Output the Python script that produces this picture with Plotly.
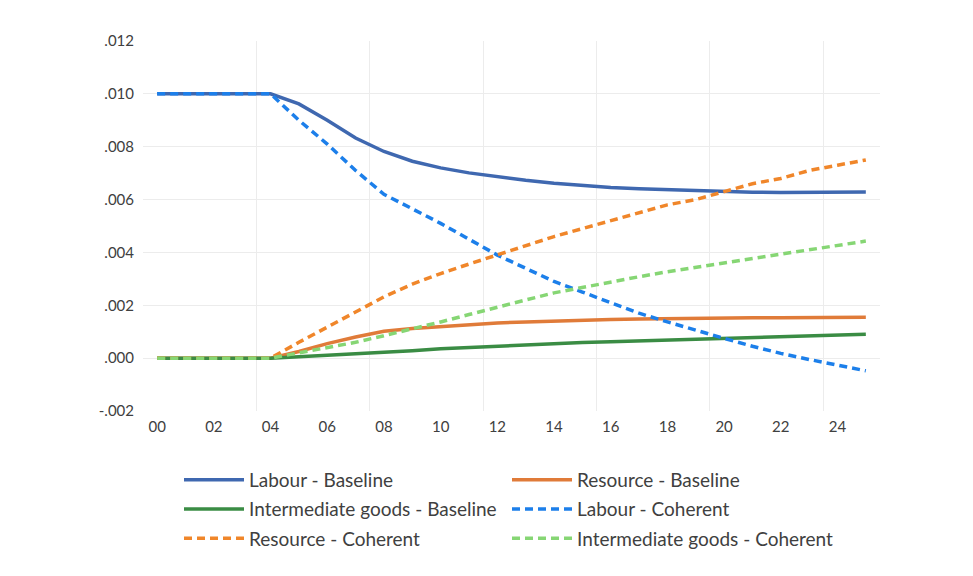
import plotly.graph_objects as go

years = list(range(0, 26))
x_tick_vals = [0, 2, 4, 6, 8, 10, 12, 14, 16, 18, 20, 22, 24]
x_tick_text = ["00", "02", "04", "06", "08", "10", "12", "14", "16", "18", "20", "22", "24"]
y_tick_vals = [-0.002, 0.0, 0.002, 0.004, 0.006, 0.008, 0.010, 0.012]
y_tick_text = ["-.002", ".000", ".002", ".004", ".006", ".008", ".010", ".012"]

labour_baseline = [0.0100, 0.0100, 0.0100, 0.0100, 0.0100, 0.00962, 0.00900, 0.00833, 0.00782,
                   0.00745, 0.00720, 0.00701, 0.00686, 0.00673, 0.00662, 0.00653, 0.00646,
                   0.00641, 0.00637, 0.00633, 0.00630, 0.00628, 0.00627, 0.00627, 0.00628, 0.00629]
resource_baseline = [0, 0, 0, 0, 0, 0.00025, 0.00055, 0.0008, 0.00102, 0.00112, 0.00120, 0.00127,
                     0.00133, 0.00137, 0.00141, 0.00144, 0.00146, 0.00148, 0.00150, 0.00151,
                     0.00152, 0.00153, 0.00153, 0.00154, 0.00154, 0.00155]
intermediate_baseline = [0, 0, 0, 0, 0, 0.00005, 0.0001, 0.00015, 0.0002, 0.00028, 0.00036,
                         0.00041, 0.00046, 0.0005, 0.00055, 0.00059, 0.00062, 0.00065, 0.00068,
                         0.00073, 0.00077, 0.0008, 0.00083, 0.00086, 0.00088, 0.0009]
labour_coherent = [0.0100, 0.0100, 0.0100, 0.0100, 0.0100, 0.0090, 0.0081, 0.0071, 0.0062, 0.00565,
                   0.0051, 0.0045, 0.0039, 0.0034, 0.0029, 0.0025, 0.0021, 0.0017, 0.00137,
                   0.00105, 0.00075, 0.00045, 0.00018, -0.00005, -0.00027, -0.00048]
resource_coherent = [0, 0, 0, 0, 0, 0.0006, 0.00118, 0.00176, 0.00232, 0.0028, 0.0032, 0.00356,
                     0.0039, 0.00425, 0.0046, 0.0049, 0.0052, 0.0055, 0.0058, 0.0060, 0.0063,
                     0.0066, 0.0068, 0.0071, 0.0073, 0.0075]
intermediate_coherent = [0, 0, 0, 0, 0, 0.0002, 0.0004, 0.0006, 0.00085, 0.0011, 0.00137, 0.00165,
                         0.00194, 0.0022, 0.00247, 0.00268, 0.00289, 0.00308, 0.00327, 0.00344,
                         0.0036, 0.00376, 0.00392, 0.0041, 0.00428, 0.00443]

series = [
    ("Labour - Baseline", labour_baseline, "#3F68B0", "solid", "legend"),
    ("Resource - Baseline", resource_baseline, "#E07B39", "solid", "legend2"),
    ("Intermediate goods - Baseline", intermediate_baseline, "#3A8C44", "solid", "legend"),
    ("Labour - Coherent", labour_coherent, "#1C7FEA", "8px,5px", "legend2"),
    ("Resource - Coherent", resource_coherent, "#F0862A", "8px,5px", "legend"),
    ("Intermediate goods - Coherent", intermediate_coherent, "#86D674", "8px,5px", "legend2"),
]

fig = go.Figure()
for name, vals, color, dash, leg in series:
    fig.add_trace(go.Scatter(
        x=years, y=vals, mode="lines", name=name,
        line=dict(color=color, width=3.5, dash=dash),
        legend=leg, legendgroup=name,
    ))

font_family = "Lato, 'Open Sans', sans-serif"
text_color = "#404040"

legend_common = dict(
    xref="container", yref="container", yanchor="top", xanchor="left", orientation="v",
    font=dict(size=19, color=text_color), bgcolor="rgba(0,0,0,0)",
    tracegroupgap=1.5, itemwidth=60, traceorder="grouped",
)

fig.update_layout(
    width=973, height=576,
    margin=dict(l=135, r=101, t=33, b=173, autoexpand=False),
    paper_bgcolor="white", plot_bgcolor="white",
    font=dict(family=font_family, size=15, color=text_color),
    xaxis=dict(
        range=[-0.5, 25.5], tickmode="array", tickvals=x_tick_vals, ticktext=x_tick_text,
        showgrid=False, zeroline=False, showline=False, ticks="",
        tickfont=dict(size=15, color=text_color), ticklabelstandoff=5,
        minor=dict(tick0=3.5, dtick=4, showgrid=True, gridcolor="#ececec", gridwidth=1, ticks=""),
    ),
    yaxis=dict(
        range=[-0.002, 0.012], tickmode="array", tickvals=y_tick_vals, ticktext=y_tick_text,
        showgrid=True, gridcolor="#ececec", gridwidth=1, zeroline=False, showline=False,
        ticks="", tickfont=dict(size=15, color=text_color), ticklabelstandoff=8,
    ),
    legend=dict(x=171/973, y=1 - 453/576, **legend_common),
    legend2=dict(x=499/973, y=1 - 453/576, **legend_common),
)

fig.write_html("out.html")
